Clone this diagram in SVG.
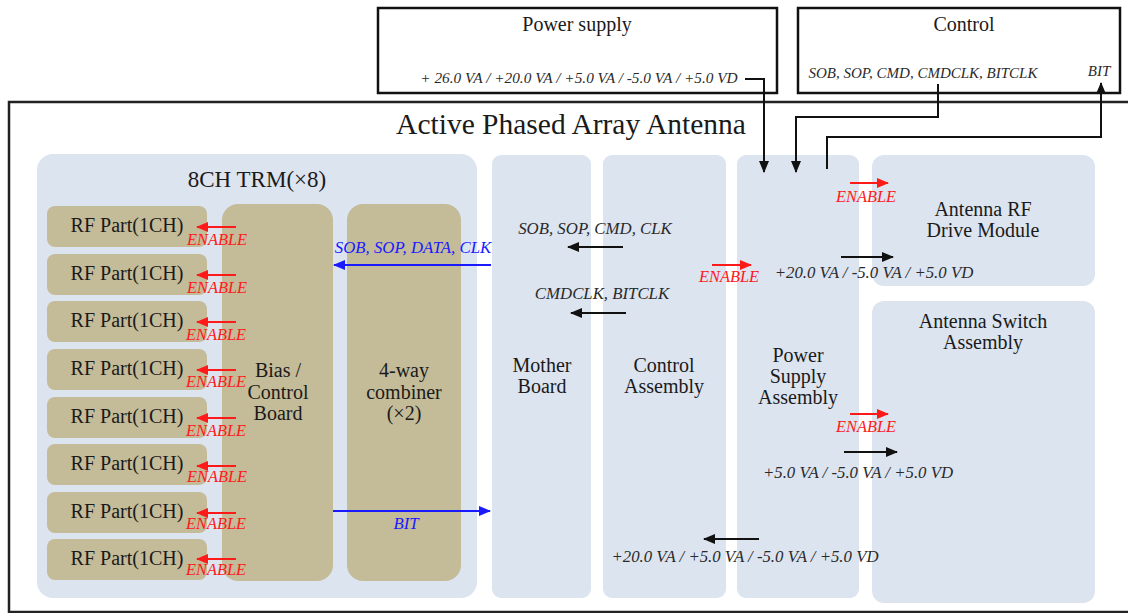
<svg xmlns="http://www.w3.org/2000/svg" width="1128" height="613" viewBox="0 0 1128 613">
<defs>
<style>
.lbl{font-family:"Liberation Serif","Times New Roman",serif;font-size:20px;fill:#1a1a1a;text-anchor:middle}
.it{font-family:"Liberation Serif","Times New Roman",serif;font-style:italic;font-size:16.8px;fill:#2a2a2a;text-anchor:middle}
.en{font-size:16.4px}
.red{fill:#ff1a1a}
.blue{fill:#1a1aff}
.col{fill:#dce4f0}
.tan{fill:#c4bb98}
.box{fill:#fff;stroke:#111;stroke-width:2.5}
.k{stroke:#111;stroke-width:2;fill:none}
.r{stroke:#ff1a1a;stroke-width:2;fill:none}
.b{stroke:#1a1aff;stroke-width:2;fill:none}
</style>
<marker id="ak" markerWidth="12" markerHeight="10" refX="11" refY="5" orient="auto" markerUnits="userSpaceOnUse"><path d="M0,0 L12,5 L0,10 z" fill="#111"/></marker>
<marker id="ar" markerWidth="12" markerHeight="10" refX="11" refY="5" orient="auto" markerUnits="userSpaceOnUse"><path d="M0,0 L12,5 L0,10 z" fill="#ff1a1a"/></marker>
<marker id="ab" markerWidth="12" markerHeight="10" refX="11" refY="5" orient="auto" markerUnits="userSpaceOnUse"><path d="M0,0 L12,5 L0,10 z" fill="#1a1aff"/></marker>
</defs>
<rect width="1128" height="613" fill="#fff"/>

<g id="power-supply">
<rect class="box" x="378" y="8" width="399" height="85"/>
<text class="lbl" x="577" y="31">Power supply</text>
<text class="it" x="579" y="83" style="font-size:15.3px">+ 26.0 VA / +20.0 VA / +5.0 VA / -5.0 VA / +5.0 VD</text>
</g>
<g id="control">
<rect class="box" x="798" y="8" width="322" height="85"/>
<text class="lbl" x="964" y="31">Control</text>
<text class="it" x="923" y="78" style="font-size:15px">SOB, SOP, CMD, CMDCLK, BITCLK</text>
<text class="it" x="1099" y="76" style="font-size:15px">BIT</text>
</g>

<g id="active-phased-array-antenna">
<rect x="9" y="102" width="1130" height="510" fill="none" stroke="#222" stroke-width="2.5"/>
<text class="lbl" x="571" y="134" style="font-size:29.5px">Active Phased Array Antenna</text>
</g>

<g id="trm">
<rect class="col" x="37" y="154" width="440" height="444" rx="16"/>
<text class="lbl" x="257" y="187" style="font-size:23px">8CH TRM(×8)</text>
</g>
<g id="rf-parts">
<g id="rf1"><rect class="tan" x="47" y="206" width="160" height="41" rx="8"/><text class="lbl" x="127" y="232">RF Part(1CH)</text></g>
<g id="rf2"><rect class="tan" x="47" y="254" width="160" height="41" rx="8"/><text class="lbl" x="127" y="280">RF Part(1CH)</text></g>
<g id="rf3"><rect class="tan" x="47" y="301" width="160" height="41" rx="8"/><text class="lbl" x="127" y="327">RF Part(1CH)</text></g>
<g id="rf4"><rect class="tan" x="47" y="349" width="160" height="41" rx="8"/><text class="lbl" x="127" y="375">RF Part(1CH)</text></g>
<g id="rf5"><rect class="tan" x="47" y="397" width="160" height="41" rx="8"/><text class="lbl" x="127" y="423">RF Part(1CH)</text></g>
<g id="rf6"><rect class="tan" x="47" y="444" width="160" height="41" rx="8"/><text class="lbl" x="127" y="470">RF Part(1CH)</text></g>
<g id="rf7"><rect class="tan" x="47" y="492" width="160" height="41" rx="8"/><text class="lbl" x="127" y="518">RF Part(1CH)</text></g>
<g id="rf8"><rect class="tan" x="47" y="539" width="160" height="41" rx="8"/><text class="lbl" x="127" y="565">RF Part(1CH)</text></g>
</g>
<g id="bias-control-board">
<rect class="tan" x="222" y="204" width="111" height="377" rx="16"/>
<text class="lbl" x="278" y="377">Bias /</text>
<text class="lbl" x="278" y="399">Control</text>
<text class="lbl" x="278" y="420">Board</text>
</g>
<g id="combiner">
<rect class="tan" x="347" y="204" width="114" height="377" rx="16"/>
<text class="lbl" x="404" y="377">4-way</text>
<text class="lbl" x="404" y="399">combiner</text>
<text class="lbl" x="404" y="420">(×2)</text>
</g>
<g id="mother-board">
<rect class="col" x="492" y="155" width="99" height="443" rx="9"/>
<text class="lbl" x="542" y="372">Mother</text>
<text class="lbl" x="542" y="393">Board</text>
</g>
<g id="control-assembly">
<rect class="col" x="603" y="155" width="123" height="443" rx="9"/>
<text class="lbl" x="664" y="372">Control</text>
<text class="lbl" x="664" y="393">Assembly</text>
</g>
<g id="power-supply-assembly">
<rect class="col" x="737" y="155" width="122" height="443" rx="9"/>
<text class="lbl" x="798" y="362">Power</text>
<text class="lbl" x="798" y="383">Supply</text>
<text class="lbl" x="798" y="404">Assembly</text>
</g>
<g id="antenna-rf-drive-module">
<rect class="col" x="872" y="155" width="223" height="131" rx="12"/>
<text class="lbl" x="983" y="216">Antenna RF</text>
<text class="lbl" x="983" y="237">Drive Module</text>
</g>
<g id="antenna-switch-assembly">
<rect class="col" x="872" y="301" width="223" height="302" rx="12"/>
<text class="lbl" x="983" y="328">Antenna Switch</text>
<text class="lbl" x="983" y="349">Assembly</text>
</g>

<g id="connectors">
<path class="k" d="M745,79 H764 V172" marker-end="url(#ak)"/>
<path class="k" d="M938,84 V117 H796 V172" marker-end="url(#ak)"/>
<path class="k" d="M827,169 V137 H1101 V83" marker-end="url(#ak)"/>

<g class="enables">
<path class="r" d="M236,227 H197" marker-end="url(#ar)"/>
<path class="r" d="M236,275 H197" marker-end="url(#ar)"/>
<path class="r" d="M236,322 H197" marker-end="url(#ar)"/>
<path class="r" d="M236,370 H197" marker-end="url(#ar)"/>
<path class="r" d="M236,418 H197" marker-end="url(#ar)"/>
<path class="r" d="M236,466 H197" marker-end="url(#ar)"/>
<path class="r" d="M236,513 H197" marker-end="url(#ar)"/>
<path class="r" d="M236,559 H197" marker-end="url(#ar)"/>
<text class="it en red" x="217" y="245">ENABLE</text>
<text class="it en red" x="217" y="293">ENABLE</text>
<text class="it en red" x="216" y="340">ENABLE</text>
<text class="it en red" x="216" y="387">ENABLE</text>
<text class="it en red" x="216" y="436">ENABLE</text>
<text class="it en red" x="217" y="482">ENABLE</text>
<text class="it en red" x="216" y="529">ENABLE</text>
<text class="it en red" x="216" y="575">ENABLE</text>
</g>

<path class="b" d="M491,265 H334" marker-end="url(#ab)"/>
<text class="it blue" x="413" y="253">SOB, SOP, DATA, CLK</text>
<path class="b" d="M333,511 H490" marker-end="url(#ab)"/>
<text class="it blue" x="406" y="529">BIT</text>

<path class="k" d="M623,247 H568" marker-end="url(#ak)"/>
<text class="it" x="595" y="234">SOB, SOP, CMD, CLK</text>
<path class="k" d="M626,313 H571" marker-end="url(#ak)"/>
<text class="it" x="602" y="299">CMDCLK, BITCLK</text>

<path class="r" d="M712,265 H751" marker-end="url(#ar)"/>
<text class="it en red" x="729" y="282">ENABLE</text>
<path class="k" d="M841,257 H893" marker-end="url(#ak)"/>
<text class="it" x="874" y="278">+20.0 VA / -5.0 VA / +5.0 VD</text>

<path class="r" d="M850,183 H888" marker-end="url(#ar)"/>
<text class="it en red" x="866" y="202">ENABLE</text>

<path class="r" d="M850,414 H888" marker-end="url(#ar)"/>
<text class="it en red" x="866" y="432">ENABLE</text>
<path class="k" d="M844,452 H897" marker-end="url(#ak)"/>
<text class="it" x="858" y="478">+5.0 VA / -5.0 VA / +5.0 VD</text>

<path class="k" d="M759,539 H704" marker-end="url(#ak)"/>
<text class="it" x="745" y="562">+20.0 VA / +5.0 VA / -5.0 VA / +5.0 VD</text>
</g>
</svg>
